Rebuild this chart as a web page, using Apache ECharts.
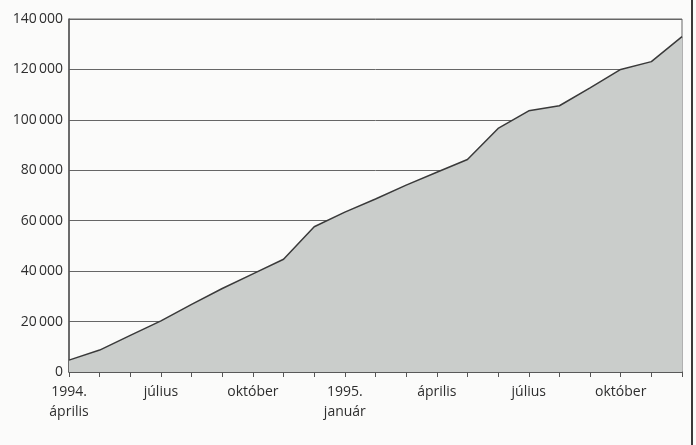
<!DOCTYPE html>
<html>
<head>
<meta charset="utf-8">
<script src="https://cdn.jsdelivr.net/npm/echarts@6/dist/echarts.min.js"></script>
<style>
  html, body { margin: 0; padding: 0; background: #fbfbfa; }
  #chart { width: 696px; height: 445px; }
</style>
</head>
<body>
<div id="chart"></div>
<script>
// monthly, 1994 April .. 1995 December
const months = [
  '1994.\náprilis', 'május', 'június', 'július', 'augusztus', 'szeptember', 'október', 'november', 'december',
  '1995.\njanuár', 'február', 'március', 'április', 'május', 'június', 'július', 'augusztus', 'szeptember',
  'október', 'november', 'december'
];
const values = [
  4700, 8700, 14500, 20300, 26800, 33100, 38900, 44700, 57600,
  63400, 68600, 74100, 79200, 84300, 96600, 103600, 105600, 112700,
  120000, 123100, 133000
];
const yTicks = [0, 20000, 40000, 60000, 80000, 100000, 120000, 140000];

const textColor = '#2e2e2e';
const font = 'Open Sans';

const chart = echarts.init(document.getElementById('chart'));
chart.setOption({
  animation: false,
  backgroundColor: '#fbfbfa',
  grid: {
    left: 69, right: 14, top: 19, bottom: 73,
    show: true,
    borderColor: '#666',
    borderWidth: 1
  },
  xAxis: {
    type: 'category',
    data: months,
    boundaryGap: false,
    axisLine: { lineStyle: { color: '#555', width: 1.5 } },
    axisTick: { interval: 0, length: 5, inside: false, lineStyle: { color: '#555' } },
    axisLabel: {
      interval: 2,
      color: textColor,
      fontFamily: font,
      fontSize: 14,
      lineHeight: 20,
      margin: 10
    }
  },
  yAxis: {
    type: 'value',
    min: yTicks[0],
    max: yTicks[yTicks.length - 1],
    interval: 20000,
    axisLine: { show: true, lineStyle: { color: '#555', width: 1.5 } },
    axisTick: { show: false },
    axisLabel: {
      color: textColor,
      fontFamily: font,
      fontSize: 14,
      margin: 6,
      formatter: v => String(v).replace(/\B(?=(\d{3})+(?!\d))/g, '\u2009')
    },
    splitLine: { lineStyle: { color: '#666', width: 1 } }
  },
  series: [{
    type: 'line',
    data: values,
    symbol: 'none',
    lineStyle: { color: '#3a3a3a', width: 1.5 },
    areaStyle: { color: '#cacdcb', opacity: 1 },
    z: 3
  }],
  graphic: [{
    type: 'line',
    shape: { x1: 692, y1: 0, x2: 692, y2: 445 },
    style: { stroke: '#3a3a3a', lineWidth: 2 }
  }]
});
</script>
</body>
</html>
